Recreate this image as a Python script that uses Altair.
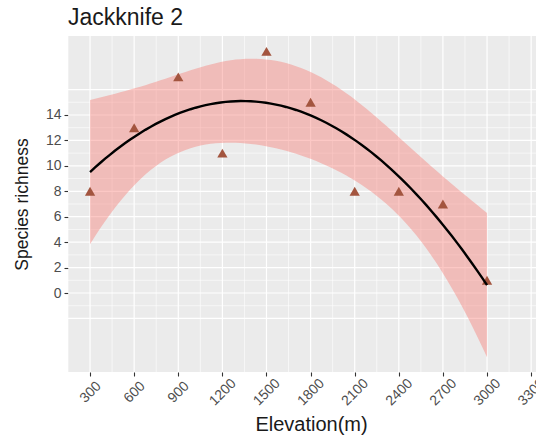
import altair as alt
import numpy as np
import pandas as pd

# Observed species richness along the elevation gradient
elevation = [300, 600, 900, 1200, 1500, 1800, 2100, 2400, 2700, 3000]
richness = [8, 13, 17, 11, 19, 15, 8, 8, 7, 1]

# Axis ticks and panel grid positions
x_ticks = [300, 600, 900, 1200, 1500, 1800, 2100, 2400, 2700, 3000, 3300]
x_minor = [150, 450, 750, 1050, 1350, 1650, 1950, 2250, 2550, 2850, 3150]
y_ticks = [0, 2, 4, 6, 8, 10, 12, 14]
y_major = [-2, 0, 2, 4, 6, 8, 10, 12, 14, 16]
y_minor = [-1, 1, 3, 5, 7, 9, 11, 13, 15]

# Quadratic least-squares fit with a 95% confidence band (lm, y ~ poly(x, 2))
T_975_DF7 = 2.364624
x = np.asarray(elevation, dtype=float)
y = np.asarray(richness, dtype=float)
xm, xs = x.mean(), x.std()


def design(v):
    u = (v - xm) / xs
    return np.column_stack([np.ones_like(u), u, u ** 2])


X = design(x)
beta, *_ = np.linalg.lstsq(X, y, rcond=None)
resid = y - X @ beta
sigma2 = float(resid @ resid) / (len(x) - 3)
xtx_inv = np.linalg.inv(X.T @ X)
grid_x = np.linspace(x.min(), x.max(), 80)
G = design(grid_x)
fit = G @ beta
se = np.sqrt(sigma2 * np.sum((G @ xtx_inv) * G, axis=1))
smooth = pd.DataFrame({
    "elevation": grid_x,
    "fit": fit,
    "lo": fit - T_975_DF7 * se,
    "hi": fit + T_975_DF7 * se,
})
points = pd.DataFrame({"elevation": elevation, "richness": richness})

FONT = "Liberation Sans"
x_scale = alt.Scale(domain=[150, 3333], nice=False, zero=False)
y_scale = alt.Scale(domain=[-6.21, 20.21], nice=False, zero=False)

x_axis = alt.Axis(
    values=x_ticks, format="d", title="Elevation(m)", grid=False, domain=False,
    tickSize=4, tickColor="#333333", tickWidth=1.1,
    labelAngle=315, labelAlign="center", labelBaseline="middle",
    labelPadding=16, labelFontSize=14, labelColor="#4D4D4D", labelFont=FONT,
    labelFlush=False, labelOverlap=False,
    titleFont=FONT, titleFontSize=20, titleFontWeight="normal",
    titleColor="#1A1A1A", titleX=243, titleY=52,
    titleAlign="center", titleBaseline="middle",
)
y_axis = alt.Axis(
    values=y_ticks, format="d", title="Species richness", grid=False, domain=False,
    tickSize=4, tickColor="#333333", tickWidth=1.1,
    labelPadding=3, labelFontSize=14, labelColor="#4D4D4D", labelFont=FONT,
    titleFont=FONT, titleFontSize=17.5, titleFontWeight="normal",
    titleColor="#1A1A1A", titleX=-46, titleY=168, titleAngle=270,
    titleAlign="center", titleBaseline="middle",
)

x_enc = lambda f: alt.X(f, type="quantitative", scale=x_scale, axis=x_axis)
y_enc = lambda f: alt.Y(f, type="quantitative", scale=y_scale, axis=y_axis)

# Panel grid: thin minor lines, heavier major lines
vminor = alt.Chart(pd.DataFrame({"elevation": x_minor})).mark_rule(
    color="white", strokeWidth=0.6, clip=True).encode(x=x_enc("elevation"))
vmajor = alt.Chart(pd.DataFrame({"elevation": x_ticks})).mark_rule(
    color="white", strokeWidth=1.2, clip=True).encode(x=x_enc("elevation"))
hminor = alt.Chart(pd.DataFrame({"richness": y_minor})).mark_rule(
    color="white", strokeWidth=0.6, clip=True).encode(y=y_enc("richness"))
hmajor = alt.Chart(pd.DataFrame({"richness": y_major})).mark_rule(
    color="white", strokeWidth=1.2, clip=True).encode(y=y_enc("richness"))

band = alt.Chart(smooth).mark_area(color="#F8766D", opacity=0.4, clip=True).encode(
    x=x_enc("elevation"), y=y_enc("lo"), y2="hi")

dots = alt.Chart(points).mark_point(
    shape="triangle-up", filled=True, size=105, color="#A3553F", opacity=1
).encode(x=x_enc("elevation"), y=y_enc("richness"))

line = alt.Chart(smooth).mark_line(color="black", strokeWidth=2.4).encode(
    x=x_enc("elevation"), y=y_enc("fit"))

chart = alt.layer(vminor, vmajor, hminor, hmajor, band, dots, line).properties(
    width=468,
    height=336,
    autosize=alt.AutoSizeParams(type="none"),
    padding={"left": 68, "top": 36, "right": 0, "bottom": 66},
    title=alt.TitleParams(
        "Jackknife 2", anchor="start", frame="group", font=FONT, fontSize=23,
        fontWeight="normal", color="#1A1A1A", baseline="alphabetic", offset=11,
        dy=23,
    ),
).configure_view(fill="#EBEBEB", strokeWidth=0)

chart.save("out.html", embed_options={"renderer": "svg", "actions": False})
